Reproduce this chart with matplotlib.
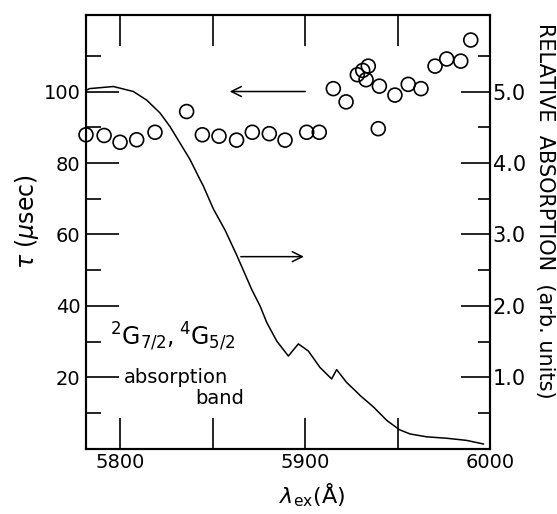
import numpy as np
import matplotlib
matplotlib.use("Agg")
import matplotlib.pyplot as plt

# lifetime data (left axis)
tau_wl = [5781.6, 5791.4, 5800.0, 5809.0, 5818.9, 5836.0, 5844.5, 5853.5, 5863.0, 5871.5,
          5880.7, 5889.2, 5900.9, 5907.7, 5915.3, 5922.2, 5928.3, 5931.2, 5934.2, 5933.0,
          5939.6, 5940.2, 5948.6, 5955.8, 5962.7, 5970.3, 5976.6, 5984.2, 5989.6]
tau_us = [87.9, 87.7, 85.8, 86.5, 88.6, 94.4, 87.9, 87.5, 86.4, 88.6,
          88.2, 86.4, 88.6, 88.6, 100.8, 97.1, 104.7, 105.9, 107.1, 103.3,
          89.6, 101.5, 99.0, 102.0, 100.8, 107.1, 109.1, 108.5, 114.4]

# absorption band (right axis)
abs_wl = [5782.0, 5783.4, 5796.4, 5807.2, 5814.4, 5821.6, 5827.0, 5832.4, 5837.8, 5843.2,
          5845.0, 5850.4, 5856.8, 5863.1, 5871.2, 5875.7, 5879.3, 5884.7, 5891.0, 5896.4,
          5901.8, 5908.1, 5914.4, 5917.1, 5922.5, 5927.0, 5929.7, 5936.9, 5944.2, 5951.0,
          5956.8, 5965.8, 5976.6, 5987.4, 5992.8, 5996.4]
abs_val = [5.02, 5.04, 5.07, 5.00, 4.88, 4.70, 4.51, 4.28, 4.05, 3.77,
           3.68, 3.36, 3.06, 2.71, 2.23, 2.00, 1.77, 1.51, 1.30, 1.47,
           1.37, 1.14, 0.98, 1.11, 0.93, 0.82, 0.75, 0.59, 0.40, 0.27,
           0.21, 0.17, 0.15, 0.12, 0.09, 0.07]

x_ticks = [5800, 5850, 5900, 5950, 6000]
x_labels = ['5800', '', '5900', '', '6000']
left_ticks = [20, 40, 60, 80, 100]
right_ticks = [1.0, 2.0, 3.0, 4.0, 5.0]

plt.rcParams['font.family'] = ['DejaVu Sans']

fig = plt.figure(figsize=(5.57, 5.14), dpi=100)
ax = fig.add_axes([0.1544, 0.1265, 0.7253, 0.8443])
ax2 = ax.twinx()

ax2.plot(abs_wl, abs_val, color='k', lw=1.1)
ax.scatter(tau_wl, tau_us, s=100, facecolors='none', edgecolors='k', linewidths=1.2, zorder=5, clip_on=False)

ax.set_xlim(5781.6, 6000)
ax.set_ylim(0, 121.4)
ax2.set_ylim(0, 121.4 / 20)

ax.set_xticks(x_ticks)
ax.set_xticklabels(x_labels)
ax.set_yticks(left_ticks)
ax.set_yticklabels([str(v) for v in left_ticks])
ax.set_yticks([10, 30, 50, 70, 90, 110], minor=True)
ax2.set_yticks(right_ticks)
ax2.set_yticklabels(['%.1f' % v for v in right_ticks])
ax2.set_yticks([0.5, 1.5, 2.5, 3.5, 4.5, 5.5], minor=True)

ax.tick_params(axis='x', direction='in', length=22, width=1.2, top=True, labelsize=14, pad=3)
ax.tick_params(axis='y', which='major', direction='in', length=24, width=1.2, labelsize=14, pad=4)
ax.tick_params(axis='y', which='minor', direction='in', length=11, width=1.2)
ax2.tick_params(axis='y', which='major', direction='in', length=21, width=1.2, labelsize=15, pad=2)
ax2.tick_params(axis='y', which='minor', direction='in', length=9, width=1.2)

for a in (ax, ax2):
    for s in a.spines.values():
        s.set_linewidth(1.5)

fig.text(27 / 557, 1 - 222 / 514, r'$\tau$ ($\mu$sec)', rotation=90,
         fontsize=17, ha='center', va='center')
ax.set_xlabel(r'$\lambda_{\rm ex}$(Å)', fontsize=16)
ax.xaxis.set_label_coords(0.56, -0.075)
fig.text(545 / 557, 1 - 211 / 514, 'RELATIVE  ABSORPTION  (arb. units)', rotation=-90,
         fontsize=15, ha='center', va='center')

ax.annotate('', xy=(5857.8, 100), xytext=(5901.6, 100),
            arrowprops=dict(arrowstyle='->', lw=1.1, color='k', mutation_scale=18))
ax.annotate('', xy=(5900.9, 53.8), xytext=(5863.8, 53.8),
            arrowprops=dict(arrowstyle='->', lw=1.1, color='k', mutation_scale=18))

ax.text(5794.6, 31.5, r'$^{2}\mathrm{G}_{7/2},^{4}\mathrm{G}_{5/2}$', fontsize=17, va='center', ha='left')
ax.text(5802.0, 20.0, 'absorption', fontsize=14, va='center', ha='left')
ax.text(5840.5, 14.0, 'band', fontsize=14, va='center', ha='left')

fig.savefig('out.png', dpi=100)
